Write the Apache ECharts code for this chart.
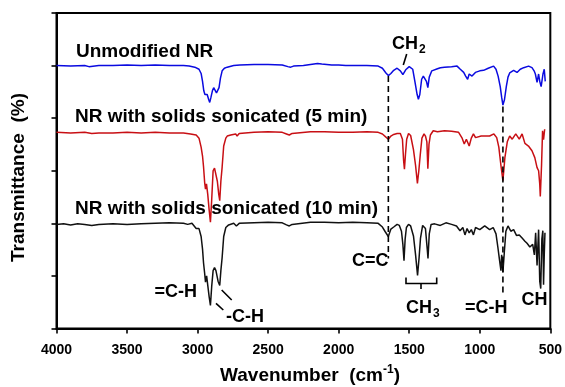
<!DOCTYPE html>
<html>
<head>
<meta charset="utf-8">
<script src="https://cdn.jsdelivr.net/npm/echarts@6/dist/echarts.min.js"></script>
<style>html,body{margin:0;padding:0;background:#fff}#c{width:565px;height:387px}</style>
</head>
<body>
<div id="c"></div>
<script>
// ---- data (wavenumber cm-1, transmittance offset units) ----
const blueWn = [4000,3900,3800,3770,3700,3600,3500,3400,3300,3200,3100,3060,3020,2990,2975,2965,2956,2948,2940,2932,2922,2914,2905,2895,2886,2876,2866,2857,2848,2838,2826,2810,2790,2744,2700,2600,2500,2400,2360,2340,2320,2250,2150,2120,2050,2000,1950,1900,1800,1720,1690,1665,1648,1630,1610,1586,1563,1545,1539,1525,1500,1492,1475,1460,1444,1435,1425,1412,1400,1388,1378,1368,1358,1340,1300,1279,1250,1200,1161,1138,1114,1100,1086,1075,1065,1055,1048,1031,1000,973,940,902,885,870,855,845,836,825,812,800,788,760,736,713,689,654,630,615,606,594,583,575,565,559,552,543,536];
const blueT  = [5.00,4.99,5.00,4.98,5.00,5.00,5.01,5.00,5.01,5.00,5.00,4.99,4.97,4.93,4.85,4.70,4.52,4.45,4.46,4.45,4.36,4.30,4.40,4.52,4.58,4.55,4.48,4.46,4.58,4.76,4.90,4.95,4.97,5.00,5.01,5.02,5.02,5.01,4.98,4.97,4.99,5.00,5.04,5.03,5.01,5.01,5.00,5.00,5.00,4.99,4.95,4.86,4.81,4.85,4.91,4.95,4.90,4.83,4.82,4.92,4.98,4.99,4.93,4.70,4.45,4.36,4.45,4.74,4.80,4.77,4.70,4.58,4.78,4.90,4.94,4.96,4.97,4.98,4.99,4.93,4.87,4.80,4.74,4.84,4.85,4.80,4.80,4.87,4.90,4.91,4.95,4.99,4.93,4.80,4.60,4.40,4.25,4.35,4.60,4.78,4.86,4.91,4.87,4.93,4.96,4.99,4.96,4.90,4.84,4.68,4.84,4.70,4.60,4.62,4.84,4.93,4.70];

const redWn = [4000,3900,3800,3750,3700,3600,3500,3400,3300,3200,3100,3050,3010,2990,2975,2965,2958,2950,2944,2937,2928,2918,2909,2900,2890,2880,2873,2860,2850,2843,2835,2826,2815,2800,2790,2765,2730,2720,2705,2600,2500,2400,2370,2350,2330,2200,2100,2000,1900,1800,1720,1690,1665,1648,1630,1610,1586,1563,1548,1540,1534,1527,1518,1505,1490,1470,1455,1442,1432,1422,1410,1395,1385,1375,1368,1360,1350,1330,1300,1250,1200,1150,1125,1110,1095,1085,1075,1060,1045,1030,990,930,900,880,865,850,836,822,805,788,770,745,720,700,680,655,630,610,594,583,575,571,562,555,548,540];
const redT  = [3.73,3.72,3.73,3.71,3.72,3.72,3.73,3.72,3.73,3.72,3.72,3.70,3.68,3.62,3.45,3.28,3.08,2.78,2.65,2.75,2.55,2.25,2.02,2.45,3.00,3.05,3.03,2.80,2.55,2.43,2.80,3.07,3.47,3.62,3.66,3.68,3.70,3.66,3.71,3.73,3.74,3.73,3.70,3.68,3.71,3.74,3.74,3.73,3.73,3.74,3.73,3.70,3.64,3.60,3.66,3.69,3.71,3.71,3.60,3.20,3.03,3.30,3.60,3.71,3.67,3.40,3.10,2.76,3.00,3.30,3.62,3.70,3.66,3.55,3.04,3.50,3.68,3.76,3.74,3.76,3.75,3.73,3.62,3.51,3.60,3.58,3.47,3.62,3.70,3.63,3.66,3.66,3.70,3.63,3.45,3.10,2.81,3.25,3.55,3.66,3.60,3.70,3.60,3.70,3.52,3.47,3.38,3.25,3.06,3.00,2.75,2.51,3.12,3.76,3.59,3.79];

const blackWn = [4000,3950,3900,3850,3800,3750,3700,3600,3500,3400,3300,3200,3100,3070,3040,3010,2990,2975,2965,2958,2950,2944,2936,2927,2918,2909,2900,2890,2880,2870,2855,2843,2835,2826,2815,2800,2780,2744,2725,2705,2600,2500,2400,2370,2350,2330,2200,2100,2000,1900,1800,1720,1690,1670,1648,1630,1610,1586,1570,1555,1545,1537,1529,1520,1505,1490,1470,1455,1441,1430,1420,1405,1395,1385,1372,1367,1358,1345,1320,1280,1240,1200,1165,1140,1120,1105,1090,1075,1060,1045,1030,1000,965,930,905,885,872,860,850,845,836,826,815,800,780,760,740,720,700,680,665,645,625,613,604,594,583,575,568,560,553,548,543,538];
const blackT  = [1.98,1.99,1.97,1.99,1.98,1.96,1.98,1.99,1.98,1.99,2.00,2.01,2.00,1.98,2.00,1.90,1.90,1.75,1.51,1.25,1.05,0.88,1.00,0.80,0.60,0.44,0.80,1.10,1.16,1.10,0.90,0.82,1.10,1.35,1.75,1.92,1.97,2.00,1.95,2.00,2.01,2.02,2.01,1.97,1.95,1.98,2.02,2.02,2.01,2.02,2.01,2.00,1.93,1.84,1.75,1.89,1.93,1.98,1.96,1.85,1.60,1.29,1.70,1.92,1.98,1.95,1.76,1.40,1.01,1.35,1.72,1.96,1.95,1.90,1.50,1.33,1.80,1.98,1.99,1.96,2.01,1.98,1.95,1.86,1.92,1.78,1.90,1.82,1.88,1.78,1.92,1.88,1.95,1.88,1.92,1.80,1.55,1.30,1.10,1.40,1.07,1.45,1.85,1.95,1.85,1.88,1.77,1.78,1.72,1.66,1.62,1.55,1.60,1.40,1.82,1.20,1.88,0.90,0.76,1.70,1.86,0.83,1.40,1.82];

// dashed guide lines: [wavenumber, from, to]
const guideCC  = [1648, 4.80, 1.33];
const guideCH  = [836, 4.22, 0.62];

// axis ticks
const xTicks = {min: 500, max: 4000, step: 500};
const yTicks = {min: 0, max: 6, step: 1};

const zip = (a, b) => a.map((v, i) => [v, b[i]]);
const FF = 'Liberation Sans, Arial, Helvetica, sans-serif';

const chart = echarts.init(document.getElementById('c'), null, {renderer: 'canvas'});

function txt(text, x, y, size, opts) {
  opts = opts || {};
  return {
    type: 'text', x: x, y: y, z: 100, rotation: opts.rotation || 0,
    style: Object.assign({
      text: text, fill: '#000', fontSize: size, fontWeight: 'bold', fontFamily: FF,
      align: opts.align || 'left', verticalAlign: 'middle'
    }, opts.style || {})
  };
}
function seg(x1, y1, x2, y2) {
  return {type: 'line', z: 100, shape: {x1, y1, x2, y2}, style: {stroke: '#000', lineWidth: 1.6}};
}
const subRich = (size) => ({
  a: {fontSize: size, fontWeight: 'bold', fontFamily: FF, lineHeight: 24, verticalAlign: 'middle'},
  s: {fontSize: 12, fontWeight: 'bold', fontFamily: FF, lineHeight: 24, verticalAlign: 'bottom', padding: [0, 0, 0, 1]},
  p: {fontSize: 12, fontWeight: 'bold', fontFamily: FF, lineHeight: 24, verticalAlign: 'top'}
});

const option = {
  backgroundColor: '#fff',
  animation: false,
  grid: {left: 56.5, right: 14, top: 13, bottom: 58.5, show: true, borderColor: '#000', borderWidth: 2, backgroundColor: 'transparent'},
  xAxis: {
    type: 'value', min: xTicks.min, max: xTicks.max, interval: xTicks.step, inverse: true,
    axisLine: {show: true, lineStyle: {color: '#000', width: 2}},
    axisTick: {show: true, length: 5, lineStyle: {color: '#000', width: 1.6}},
    axisLabel: {color: '#000', fontSize: 14, fontWeight: 'bold', fontFamily: FF, margin: 15, formatter: (v) => String(v)},
    splitLine: {show: false}
  },
  yAxis: {
    type: 'value', min: yTicks.min, max: yTicks.max, interval: yTicks.step,
    axisLine: {show: true, lineStyle: {color: '#000', width: 2}},
    axisTick: {show: true, length: 5, lineStyle: {color: '#000', width: 1.6}},
    axisLabel: {show: false},
    splitLine: {show: false}
  },
  series: [
    {type: 'line', data: zip(blueWn, blueT), showSymbol: false, symbol: 'none', lineStyle: {color: '#0a0ae0', width: 1.5}, z: 3},
    {type: 'line', data: zip(redWn, redT), showSymbol: false, symbol: 'none', lineStyle: {color: '#c80f14', width: 1.5}, z: 3},
    {type: 'line', data: zip(blackWn, blackT), showSymbol: false, symbol: 'none', lineStyle: {color: '#111', width: 1.5}, z: 3},
    {type: 'line', data: [[guideCC[0], guideCC[1]], [guideCC[0], guideCC[2]]], symbol: 'none', lineStyle: {color: '#000', width: 1.6, type: [6, 4]}, z: 4},
    {type: 'line', data: [[guideCH[0], guideCH[1]], [guideCH[0], guideCH[2]]], symbol: 'none', lineStyle: {color: '#000', width: 1.6, type: [6, 4]}, z: 4}
  ],
  graphic: [
    txt('Unmodified NR', 76, 52, 19),
    txt('NR with solids sonicated (5 min)', 75, 117, 19),
    txt('NR with solids sonicated (10 min)', 75, 208.5, 19),
    {type: 'text', x: 392, y: 44, z: 100, style: {text: '{a|CH}{s|2}', rich: subRich(18), verticalAlign: 'middle', align: 'left'}},
    seg(403.3, 65, 406.7, 54),
    txt('C=C', 352, 261.5, 18),
    txt('=C-H', 197, 292.5, 18, {align: 'right'}),
    seg(221.7, 290, 231.7, 300),
    seg(216, 303.3, 223.3, 310),
    txt('-C-H', 226, 317.5, 18),
    {type: 'polyline', z: 100, shape: {points: [[406, 277.5], [406, 283.5], [436.7, 283.5], [436.7, 277.5]]}, style: {stroke: '#000', lineWidth: 1.6, fill: null}},
    seg(421, 283.5, 421, 289),
    {type: 'text', x: 406, y: 308, z: 100, style: {text: '{a|CH}{s|3}', rich: subRich(18), verticalAlign: 'middle', align: 'left'}},
    txt('=C-H', 465, 308.5, 18),
    txt('CH', 521.5, 300.5, 18),
    txt('Transmittance  (%)', 18.5, 177.5, 19, {rotation: Math.PI / 2, align: 'center'}),
    {type: 'text', x: 310, y: 376, z: 100, style: {text: '{a|Wavenumber  (cm}{p|-1}{a|)}', rich: subRich(19), verticalAlign: 'middle', align: 'center'}}
  ]
};
chart.setOption(option);
</script>
</body>
</html>
